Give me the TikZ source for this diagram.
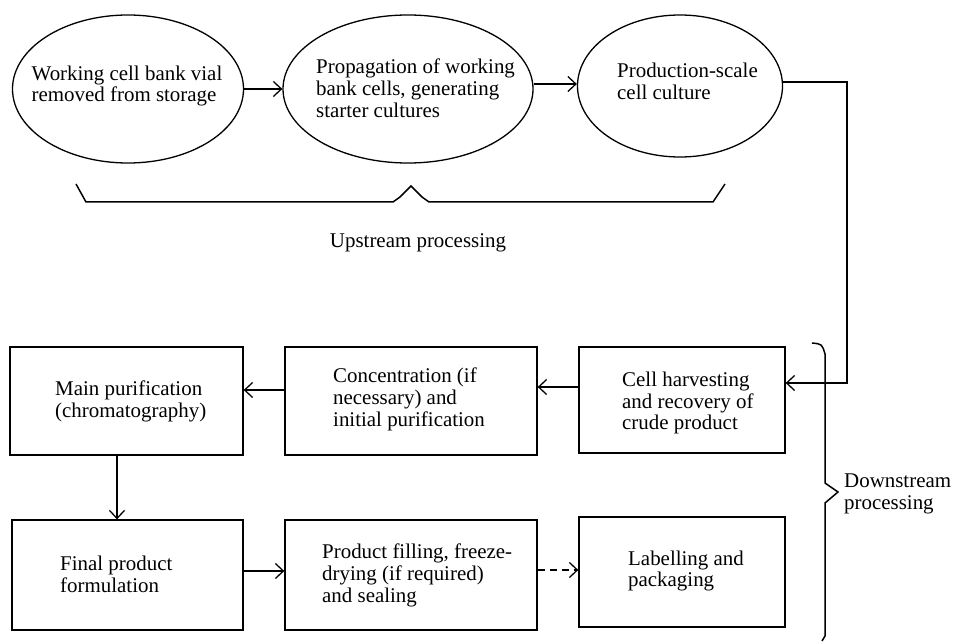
\documentclass[tikz,border=0pt]{standalone}
\usepackage{fontspec}
\setmainfont{Liberation Serif}
\usetikzlibrary{arrows.meta,shapes.geometric}
\begin{document}
\begin{tikzpicture}[x=1bp,y=-1bp,
  every node/.style={font=\fontsize{21}{22}\selectfont, inner sep=0pt},
  ell/.style={draw, line width=1.3bp, ellipse, align=left},
  box/.style={draw, line width=1.3bp, rectangle, align=left},
  conn/.style={line width=1.3bp, -{Straight Barb[length=8bp,width=15bp,line width=1.3bp]}},
  brace/.style={line width=1.5bp},
  lbl/.style={align=left}
]
\useasboundingbox (0,0) rectangle (955,643);
% ellipses
\node[ell, minimum width=231bp, minimum height=148bp] (e1) at (128,89) {};
\node[ell, minimum width=250bp, minimum height=148bp] (e2) at (408,89) {};
\node[ell, minimum width=205bp, minimum height=142bp] (e3) at (680,86) {};
\node[lbl] (t1) at (127,86) {Working cell bank vial\\removed from storage};
\node[lbl, anchor=west] (t2) at (316,88) {Propagation of working\\bank cells, generating\\starter cultures};
\node[lbl, anchor=west] (t3) at (617,81) {Production-scale\\cell culture};
% boxes
\node[box, minimum width=233bp, minimum height=108bp] (b1) at (126.5,401) {};
\node[box, minimum width=252bp, minimum height=108bp] (b2) at (411,401) {};
\node[box, minimum width=206bp, minimum height=106bp] (b3) at (682,400) {};
\node[box, minimum width=231bp, minimum height=110bp] (b4) at (127.5,575) {};
\node[box, minimum width=252bp, minimum height=110bp] (b5) at (411,575) {};
\node[box, minimum width=206bp, minimum height=110bp] (b6) at (682,572) {};
\node[lbl, anchor=west] (s1) at (55,401) {Main purification\\(chromatography)};
\node[lbl, anchor=west] (s2) at (333,399) {Concentration (if\\necessary) and\\initial purification};
\node[lbl, anchor=west] (s3) at (622,403) {Cell harvesting\\and recovery of\\crude product};
\node[lbl, anchor=west] (s4) at (60,574) {Final product\\formulation};
\node[lbl, anchor=west] (s5) at (322,575) {Product filling, freeze-\\drying (if required)\\and sealing};
\node[lbl, anchor=west] (s6) at (628,571) {Labelling and\\packaging};
% labels
\node (up) at (418,243) {Upstream processing};
\node[lbl, anchor=west] (down) at (844,494) {Downstream\\processing};
% connectors
\draw[conn] (e1.east) -- (e2.west |- e1.east);
\draw[conn] (e2.east |- 0,84) -- (e3.west |- 0,84);
\coordinate (c1) at (847,82);
\coordinate (c2) at (847,383);
\draw[conn] (e3.east |- c1) -- (c1) -- (c2) -- (b3.east |- c2);
\draw[conn] (b3.west |- 0,387) -- (b2.east |- 0,387);
\draw[conn] (b2.west |- 0,390) -- (b1.east |- 0,390);
\draw[conn] (b1.south -| 117,0) -- (b4.north -| 117,0);
\draw[conn] (b4.east |- 0,571) -- (b5.west |- 0,571);
\draw[conn, dash pattern=on 7bp off 5bp] (b5.east |- 0,570) -- (b6.west |- 0,570);
% upstream brace
\coordinate (ua) at (76,184);
\coordinate (ub) at (725,184);
\draw[brace] (ua) -- (86,202) -- (393,202) -- (400,197) -- (411,186) -- (422,197) -- (429,202) -- (713,202) -- (ub);
% downstream brace
\coordinate (da) at (812,343);
\coordinate (db) at (822,641);
\draw[brace] (da) .. controls (822,344) .. (825,354) -- (825,483) -- (838,492) -- (825,503) -- (825,636) -- (db);
\end{tikzpicture}
\end{document}
